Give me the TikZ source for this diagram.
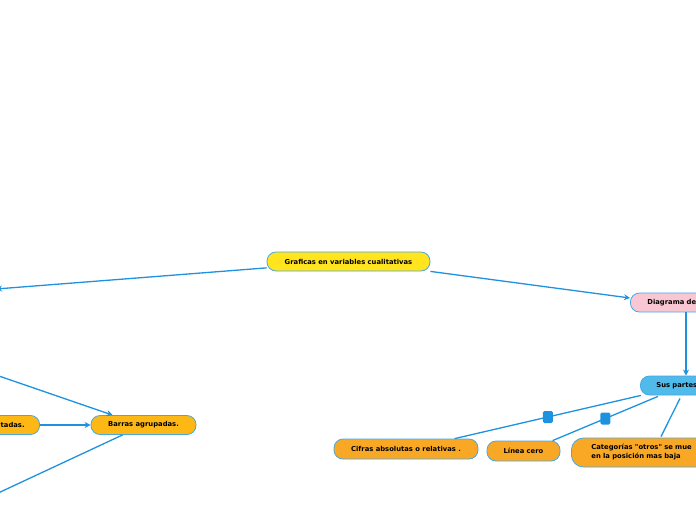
\documentclass[tikz,border=0pt]{standalone}
\usepackage{fontspec}
\setmainfont{DejaVu Sans}
\usetikzlibrary{arrows.meta,positioning}

\definecolor{linkblue}{RGB}{30,146,222}
\definecolor{edgeblue}{RGB}{72,168,226}
\definecolor{mainyellow}{RGB}{255,228,30}
\definecolor{diagpink}{RGB}{249,198,211}
\definecolor{partblue}{RGB}{80,186,235}
\definecolor{barorange}{RGB}{253,184,22}
\definecolor{partorange}{RGB}{249,168,38}

\begin{document}
\begin{tikzpicture}[x=1pt, y=-1pt, >={Stealth[length=6pt,width=6pt]},
    every node/.style={font=\fontsize{6.8}{9}\selectfont\bfseries},
    topic/.style={draw=edgeblue, line width=0.8pt, rounded corners=9pt, minimum height=19pt, inner sep=0pt},
    link/.style={linkblue, line width=1.3pt},
    knob/.style={fill=linkblue, rounded corners=1.5pt, minimum width=10pt, minimum height=12pt, inner sep=0pt}]
    \clip (0,0) rectangle (696,520);

    % Central topic
    \node[topic, fill=mainyellow, minimum width=163pt] (main) at (348.5,261.5) {Graficas en variables cualitativas};

    % Right branch
    \node[topic, fill=diagpink, anchor=west, text width=90pt, inner xsep=17pt, align=left] (diag) at (630,302.5) {Diagrama de};
    \node[topic, fill=partblue, anchor=west, text width=80pt, inner xsep=16pt, align=left] (sus) at (640,385.5) {Sus partes};

    % Left branch (cut at the edge)
    \node[topic, fill=barorange, anchor=east, text width=60pt, inner xsep=15pt, align=right] (apil) at (40,425) {tadas.};
    \node[topic, fill=barorange, minimum width=105pt] (agrup) at (143.5,425) {Barras agrupadas.};
    \coordinate (farleft) at (-4,289);
    \coordinate (upleft) at (-4,375);
    \coordinate (lowleft) at (-4,494);

    % Parts
    \node[topic, fill=partorange, minimum width=144pt, minimum height=20pt] (cifras) at (406,449) {Cifras absolutas o relativas .};
    \node[topic, fill=partorange, minimum width=73pt, minimum height=20pt] (cero) at (523.5,451) {Línea cero};
    \node[topic, fill=partorange, anchor=west, text width=120pt, inner xsep=20pt, minimum height=29pt, rounded corners=12pt, align=left] (otros) at (571,452.5) {Categorías \textquotedbl otros\textquotedbl{} se mue\\en la posición mas baja};

    % Connectors
    \draw[link, ->] (main) -- (farleft);
    \draw[link, ->] (main.south east) -- ([yshift=4.5pt]diag.west);
    \draw[link, ->] ([xshift=56pt]diag.south west) -- ([xshift=46pt]sus.north west);
    \draw[link, ->] (upleft) -- ([xshift=22pt]agrup.north west);
    \draw[link, ->] (apil.east) -- (agrup.west);
    \draw[link] ([xshift=32pt]agrup.south west) -- (lowleft);
    \draw[link] ([xshift=1pt]sus.south west) -- node[knob] {} ([xshift=121pt]cifras.north west);
    \draw[link] ([xshift=18pt,yshift=-1pt]sus.south west) -- node[knob] {} ([xshift=66pt]cero.north west);
    \draw[link] ([xshift=40pt,yshift=-3pt]sus.south west) -- ([xshift=90pt,yshift=1pt]otros.north west);
\end{tikzpicture}
\end{document}
